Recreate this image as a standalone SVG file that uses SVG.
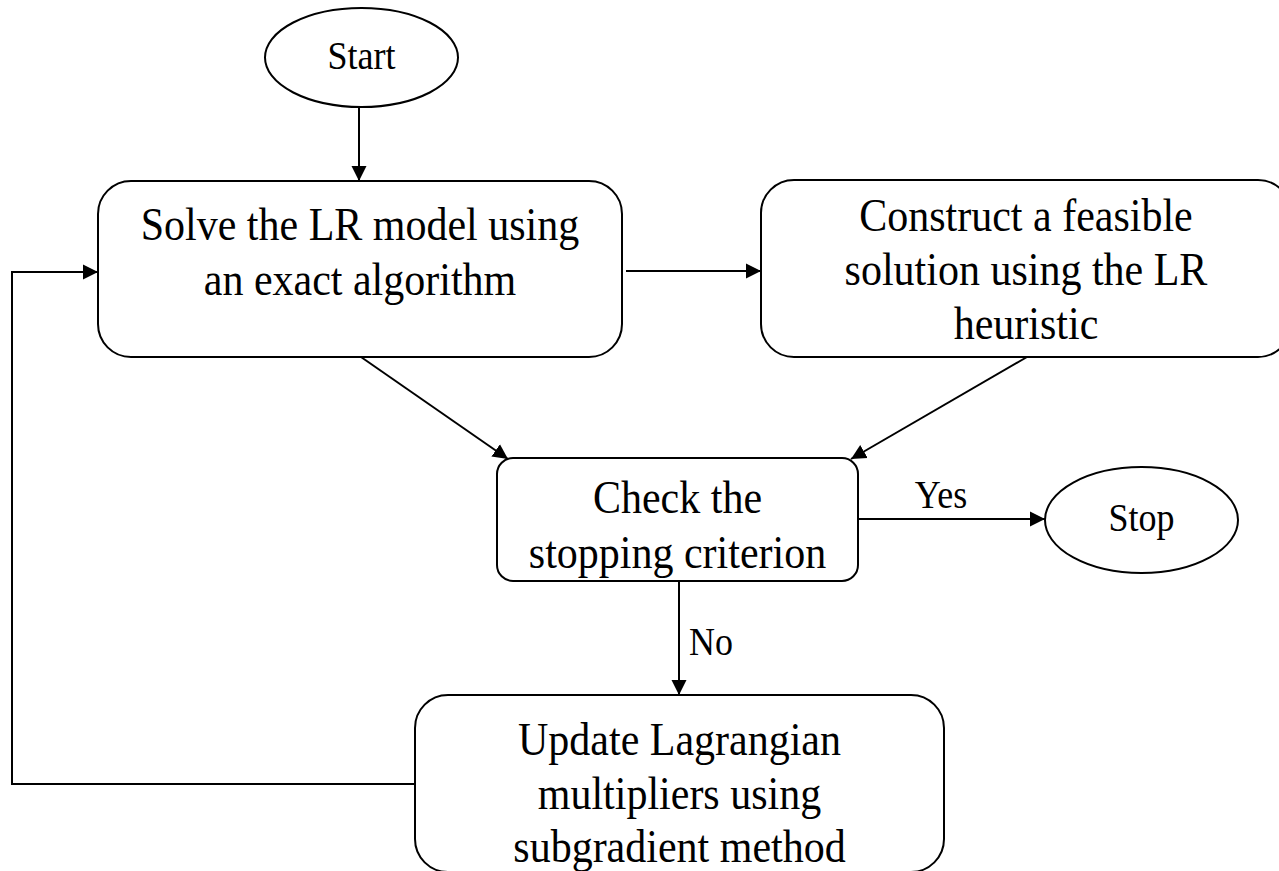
<svg xmlns="http://www.w3.org/2000/svg" width="1279" height="871" viewBox="0 0 1279 871">
  <style>
    .shape { fill: #ffffff; stroke: #000000; stroke-width: 2; }
    .edge { fill: none; stroke: #000000; stroke-width: 2; marker-end: url(#arrow); }
    text { font-family: "Liberation Serif", "Times New Roman", serif; fill: #000000; text-anchor: middle; }
    .big { font-size: 42px; }
    .small { font-size: 36px; }
  </style>
  <defs>
    <marker id="arrow" markerUnits="userSpaceOnUse" markerWidth="17" markerHeight="17" refX="15" refY="8" orient="auto">
      <path d="M0,0.5 L15,8 L0,15.5 Z" fill="#000000"/>
    </marker>
  </defs>

  <!-- connectors; labels use a slightly tall type (y values are divided by 1.09) -->
  <g id="connectors">
    <path class="edge" d="M359,107 V181"/>
    <path class="edge" d="M626,271 H761"/>
    <path class="edge" d="M361,357 L508,459"/>
    <path class="edge" d="M1027,357 L851,459"/>
    <path class="edge" d="M858,519 H1045"/>
    <path class="edge" d="M679,581 V695"/>
    <path class="edge" d="M415,784 H12 V272 H98"/>
    <g transform="scale(1,1.09)">
      <text class="small" x="941" y="466.06">Yes</text>
      <text class="small" x="689" y="600.92" style="text-anchor:start">No</text>
    </g>
  </g>

  <g id="start">
    <ellipse class="shape" cx="361.5" cy="57.5" rx="96.5" ry="49.5"/>
    <g transform="scale(1,1.09)">
      <text class="small" x="361.5" y="63.3">Start</text>
    </g>
  </g>

  <g id="solve">
    <rect class="shape" x="98" y="181" width="524" height="176" rx="33" ry="33"/>
    <g transform="scale(1,1.09)">
      <text class="big" x="360" y="220.18">Solve the LR model using</text>
      <text class="big" x="360" y="270.64">an exact algorithm</text>
    </g>
  </g>

  <g id="construct">
    <rect class="shape" x="761" y="180" width="530" height="177" rx="33" ry="33"/>
    <g transform="scale(1,1.09)">
      <text class="big" x="1026" y="211.93">Construct a feasible</text>
      <text class="big" x="1026" y="261.47">solution using the LR</text>
      <text class="big" x="1026" y="311.01">heuristic</text>
    </g>
  </g>

  <g id="check">
    <rect class="shape" x="497" y="458" width="361" height="123" rx="16" ry="16"/>
    <g transform="scale(1,1.09)">
      <text class="big" x="677.5" y="470.64">Check the</text>
      <text class="big" x="677.5" y="521.1">stopping criterion</text>
    </g>
  </g>

  <g id="stop">
    <ellipse class="shape" cx="1141.5" cy="520" rx="96.5" ry="53"/>
    <g transform="scale(1,1.09)">
      <text class="small" x="1141.5" y="487.16">Stop</text>
    </g>
  </g>

  <g id="update">
    <rect class="shape" x="415" y="695" width="529" height="177" rx="33" ry="33"/>
    <g transform="scale(1,1.09)">
      <text class="big" x="679.5" y="692.66">Update Lagrangian</text>
      <text class="big" x="679.5" y="742.2">multipliers using</text>
      <text class="big" x="679.5" y="790.83">subgradient method</text>
    </g>
  </g>
</svg>
